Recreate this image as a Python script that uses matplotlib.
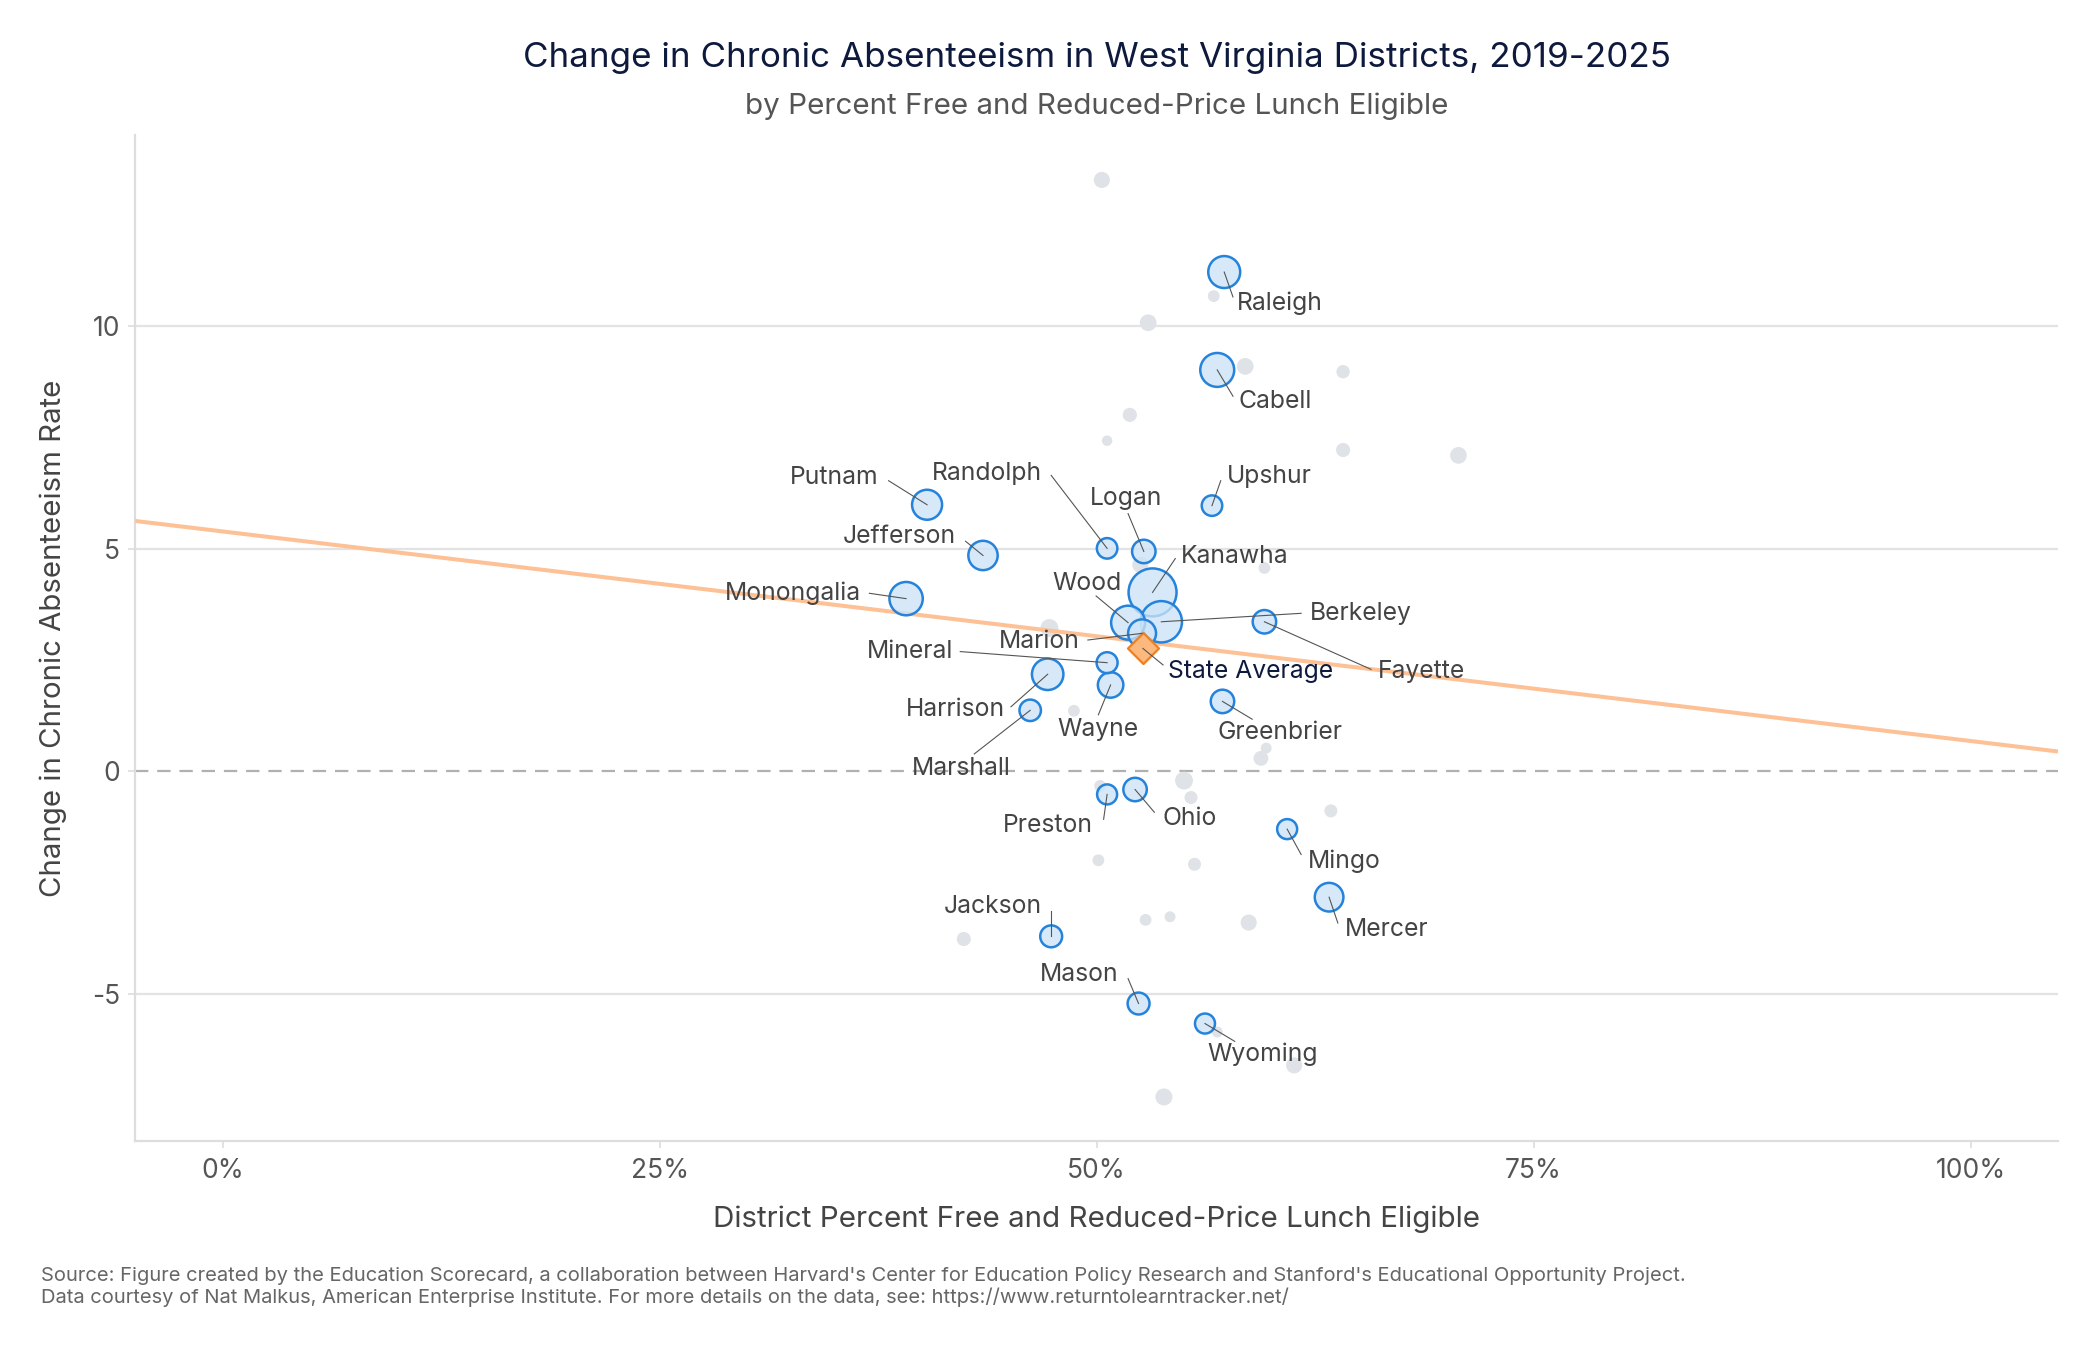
import matplotlib
matplotlib.use("Agg")
import matplotlib.pyplot as plt
import numpy as np

plt.rcParams['font.family'] = ['Inter', 'DejaVu Sans']
plt.rcParams['axes.unicode_minus'] = False

# ---------------- data ----------------
# Highlighted (labelled) districts: % FRPL eligible, change in chronic absenteeism, enrollment (thousands, approx.)
hl_names = ["Raleigh", "Cabell", "Putnam", "Jefferson", "Monongalia", "Randolph", "Logan",
            "Upshur", "Kanawha", "Wood", "Berkeley", "Marion", "Fayette", "Mineral",
            "Harrison", "Wayne", "Marshall", "Greenbrier", "Preston", "Ohio", "Mingo",
            "Mercer", "Jackson", "Mason", "Wyoming"]
hl_frpl = [57.3, 56.9, 40.3, 43.5, 39.1, 50.6, 52.7,
           56.6, 53.2, 51.8, 53.7, 52.6, 59.6, 50.6,
           47.2, 50.8, 46.2, 57.2, 50.6, 52.2, 60.9,
           63.3, 47.4, 52.4, 56.2]
hl_change = [11.22, 9.02, 5.99, 4.85, 3.88, 5.01, 4.94,
             5.97, 4.02, 3.34, 3.36, 3.10, 3.36, 2.44,
             2.18, 1.94, 1.37, 1.57, -0.52, -0.41, -1.30,
             -2.83, -3.71, -5.22, -5.67]
hl_enroll = [10.2, 11.5, 9.0, 8.6, 11.1, 4.2, 5.5,
             4.2, 23.0, 11.5, 17.1, 7.8, 5.5, 4.4,
             9.9, 6.5, 4.6, 5.5, 4.0, 5.5, 4.0,
             8.2, 4.8, 4.8, 4.0]

# Other (unlabelled) districts
oth_frpl = [50.3, 56.7, 52.95, 58.5, 64.1, 51.9, 50.6, 64.1, 70.7, 59.6,
            52.5, 47.3, 48.7, 59.7, 59.4, 55.0, 50.2, 55.4, 63.4, 50.1,
            55.6, 42.4, 52.8, 54.2, 58.7, 56.9, 61.3, 53.85]
oth_change = [13.29, 10.68, 10.08, 9.10, 8.98, 8.01, 7.43, 7.22, 7.10, 4.57,
              4.64, 3.22, 1.36, 0.52, 0.29, -0.21, -0.33, -0.59, -0.89, -2.00,
              -2.09, -3.77, -3.34, -3.27, -3.40, -5.86, -6.61, -7.32]
oth_enroll = [2.6, 1.4, 2.8, 2.8, 1.8, 2.0, 1.1, 2.0, 2.8, 1.4,
              2.6, 3.2, 1.4, 1.2, 2.2, 3.2, 1.4, 1.7, 1.7, 1.4,
              1.7, 2.0, 1.4, 1.2, 2.6, 1.2, 2.6, 2.9]

# State average
state_frpl = 52.65
state_change = 2.76

# Fitted line (intercept at 0% FRPL, slope per percentage point)
fit_intercept = 5.39
fit_slope = -0.0471

x_ticks = [0, 25, 50, 75, 100]
x_ticklabels = ["0%", "25%", "50%", "75%", "100%"]
y_ticks = [-5, 0, 5, 10]
y_ticklabels = ["-5", "0", "5", "10"]

title = "Change in Chronic Absenteeism in West Virginia Districts, 2019-2025"
subtitle = "by Percent Free and Reduced-Price Lunch Eligible"
xlabel = "District Percent Free and Reduced-Price Lunch Eligible"
ylabel = "Change in Chronic Absenteeism Rate"
footer = ("Source: Figure created by the Education Scorecard, a collaboration between Harvard's Center for "
          "Education Policy Research and Stanford's Educational Opportunity Project.\n"
          "Data courtesy of Nat Malkus, American Enterprise Institute. For more details on the data, see: "
          "https://www.returntolearntracker.net/")

# label placement (text centre) and leader-line end, in data units
lab_tx = [60.5, 60.2, 35.0, 38.7, 32.6, 43.7, 51.7,
          59.9, 57.9, 49.45, 65.1, 46.7, 68.6, 39.3,
          41.9, 50.05, 42.25, 60.5, 47.2, 55.3, 64.15,
          66.6, 44.06, 49.0, 59.5]
lab_ty = [10.51, 8.32, 6.61, 5.28, 3.99, 6.69, 6.14,
          6.63, 4.83, 4.23, 3.54, 2.92, 2.24, 2.69,
          1.38, 0.94, 0.07, 0.87, -1.23, -1.06, -2.02,
          -3.55, -3.05, -4.56, -6.36]
seg_x = [57.8, 57.8, 38.1, 42.5, 37.0, 47.4, 51.8,
         57.1, 54.5, 49.97, 61.7, 49.5, 65.7, 42.2,
         45.1, 50.1, 43.0, 58.9, 50.4, 53.3, 61.7,
         63.8, 47.4, 51.8, 57.9]
seg_y = [10.66, 8.43, 6.53, 5.17, 4.0, 6.65, 5.79,
         6.53, 4.78, 3.94, 3.55, 2.95, 2.29, 2.69,
         1.45, 1.27, 0.39, 1.17, -1.08, -0.92, -1.87,
         -3.41, -3.15, -4.66, -6.07]
state_lab = (58.8, 2.24)
state_seg = (53.8, 2.39)

# ---------------- plot ----------------
fig = plt.figure(figsize=(21, 13.5), dpi=100)
ax = fig.add_axes([0.0644, 0.1548, 0.9156, 0.7452])

xlim = (-5, 105)
ylim = (-8.31, 14.3)
ax.set_xlim(*xlim)
ax.set_ylim(*ylim)

grid_c = "#e3e3e3"
for yv in y_ticks:
    if yv == 0:
        ax.axhline(0, color="#b0b0b0", lw=1.6, ls=(0, (6, 4)), zorder=1)
    else:
        ax.axhline(yv, color=grid_c, lw=1.6, zorder=0)

def area(enroll):
    r_px = np.sqrt(np.asarray(enroll) / 0.04)
    return (2 * r_px * 0.72) ** 2

ax.scatter(oth_frpl, oth_change, s=area(oth_enroll), color="#dfe3e8", edgecolors="none", zorder=2)

xs = np.array(xlim)
ax.plot(xs, fit_intercept + fit_slope * xs, color="#fdc195", lw=2.9, zorder=3, solid_capstyle="butt")

order = np.argsort(hl_enroll)[::-1]
ax.scatter(np.array(hl_frpl)[order], np.array(hl_change)[order], s=area(np.array(hl_enroll)[order]),
           facecolors=(0.80, 0.89, 0.97, 0.78), edgecolors="#2583db", linewidths=1.8, zorder=4)

ax.scatter([state_frpl], [state_change], marker="D", s=250, facecolors="#fdb97d",
           edgecolors="#f07f1e", linewidths=1.6, zorder=5)

lab_fs = 17.8
for i, name in enumerate(hl_names):
    ax.plot([hl_frpl[i], seg_x[i]], [hl_change[i], seg_y[i]], color="#555555", lw=0.8, zorder=6)
    ax.text(lab_tx[i], lab_ty[i], name, ha="center", va="center", fontsize=lab_fs,
            color="#444444", zorder=7)
ax.plot([state_frpl, state_seg[0]], [state_change, state_seg[1]], color="#555555", lw=0.8, zorder=6)
ax.text(state_lab[0], state_lab[1], "State Average", ha="center", va="center", fontsize=lab_fs,
        color="#0e1a3d", zorder=7)

for s in ["top", "right"]:
    ax.spines[s].set_visible(False)
for s in ["left", "bottom"]:
    ax.spines[s].set_color("#dddddd")
    ax.spines[s].set_linewidth(1.6)

ax.set_xticks(x_ticks)
ax.set_xticklabels(x_ticklabels)
ax.set_yticks(y_ticks)
ax.set_yticklabels(y_ticklabels)
ax.tick_params(axis="both", colors="#dddddd", labelcolor="#555555", labelsize=19, length=5, width=1.2)
ax.tick_params(axis="x", pad=7)
ax.tick_params(axis="y", pad=6)

ax.set_xlabel(xlabel, fontsize=21.3, color="#444444", labelpad=16)
ax.set_ylabel(ylabel, fontsize=21.2, color="#444444", labelpad=18)

cx = 0.0644 + 0.9156 / 2
fig.text(cx, 1 - 58 / 1350, title, ha="center", va="center", fontsize=25.2, color="#0e1a3d")
fig.text(cx, 1 - 106 / 1350, subtitle, ha="center", va="center", fontsize=21.3, color="#555555")
fig.text(41 / 2100, 1 - 1267 / 1350, footer, ha="left", va="top", fontsize=14.5, color="#666666",
         linespacing=1.15)

fig.savefig("out.png", dpi=100, facecolor="white")
